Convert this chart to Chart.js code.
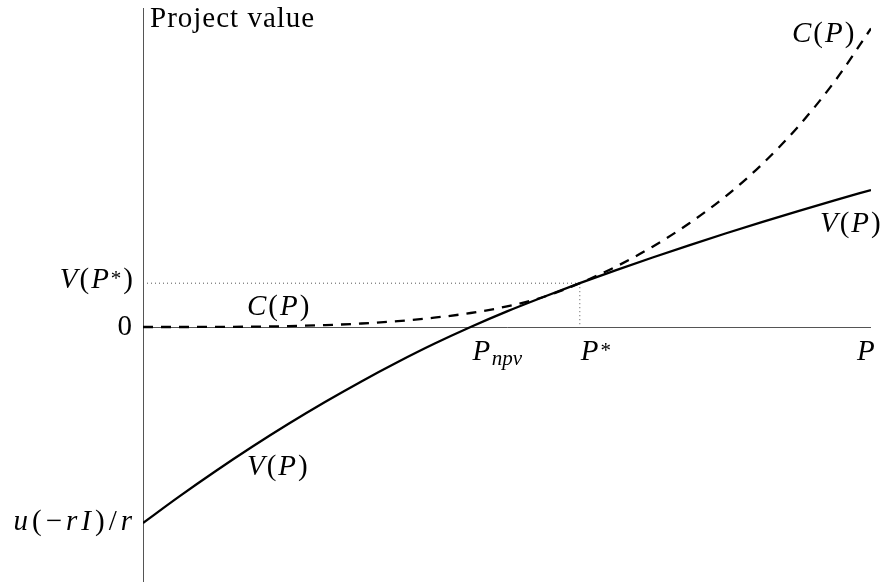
<!DOCTYPE html>
<html><head><meta charset="utf-8">
<script src="https://cdn.jsdelivr.net/npm/chart.js@4.4.1/dist/chart.umd.min.js"></script>
<style>html,body{margin:0;padding:0;background:#fff;overflow:hidden}#wrap{width:887px;height:584px}</style>
</head><body><div id="wrap"><canvas id="c" width="887" height="584"></canvas></div>
<script>
// Price grid (P), project value V(P) and option value C(P)
const prices = [0,1,2,3,4,5,6,7,8,9,10,11,12,13,14,15,16,17,18,19,20];
const projectValue = [-196,-169.4,-144,-119.8,-96.8,-75,-54.4,-35,-16.8,0,15.6,30.0,43.8,56.9,69.5,81.7,93.5,104.9,115.9,126.6,137];
const optionValue = [0,0,0.1,0.35,0.9,1.9,3.5,5.9,9.3,14,20.6,30,43.8,60.5,80.3,103.5,130.5,162.5,200.5,245.5,298.5];
const pNpvIndex = 9;
const pStarIndex = 12;
const yLimits = [-255, 319];

const vStar = projectValue[pStarIndex];
const pStar = prices[pStarIndex];
const pNpv = prices[pNpvIndex];
const pMax = prices[prices.length - 1];

const toXY = vals => vals.map((v, i) => ({x: prices[i], y: v}));

const FS = 29;
const FONT = '"Liberation Serif", "DejaVu Serif", serif';

function drawMath(ctx, parts, x, y, align, gap) {
  gap = gap === undefined ? 2 : gap;
  const fontFor = k => k === 'i' ? `italic ${FS}px ${FONT}` :
                       k === 'r' ? `${FS}px ${FONT}` :
                       k === 'sup' ? `${Math.round(FS*0.72)}px ${FONT}` :
                       `italic ${Math.round(FS*0.72)}px ${FONT}`;
  const dyFor = k => k === 'sup' ? -3 : k === 'sub' ? 5 : 0;
  const ws = [];
  let w = 0;
  parts.forEach(([t, k]) => { ctx.font = fontFor(k); const m = ctx.measureText(t).width + gap; ws.push(m); w += m; });
  w -= gap;
  let cx = align === 'right' ? x - w : x;
  parts.forEach(([t, k], i) => { ctx.font = fontFor(k); ctx.fillText(t, cx, y + dyFor(k)); cx += ws[i]; });
}

const overlay = {
  id: 'overlay',
  beforeDatasetsDraw(chart) {
    const {ctx, scales: {x, y}, chartArea: a} = chart;
    ctx.save();
    ctx.strokeStyle = '#555';
    ctx.lineWidth = 1;
    const x0 = Math.round(x.getPixelForValue(0)) + 0.5;
    const y0 = Math.round(y.getPixelForValue(0)) + 0.5;
    ctx.beginPath(); ctx.moveTo(x0, a.top); ctx.lineTo(x0, a.bottom); ctx.stroke();
    ctx.beginPath(); ctx.moveTo(x0, y0); ctx.lineTo(x.getPixelForValue(pMax), y0); ctx.stroke();
    ctx.restore();
  },
  afterDraw(chart) {
    const {ctx, scales: {x, y}, chartArea: a} = chart;
    const x0 = x.getPixelForValue(0);
    const y0 = y.getPixelForValue(0);
    ctx.save();
    ctx.fillStyle = '#000';
    ctx.textBaseline = 'alphabetic';
    // axis title
    ctx.font = `${FS}px ${FONT}`;
    ctx.letterSpacing = '1px';
    ctx.fillText('Project value', x0 + 7, a.top + 19);
    ctx.letterSpacing = '0px';
    // y labels
    drawMath(ctx, [['V','i'],['(','r'],['P','i'],['*','sup'],[')','r']], x0 - 10, y.getPixelForValue(vStar) + 5, 'right');
    drawMath(ctx, [['0','r']], x0 - 11, y0 + 8, 'right');
    drawMath(ctx, [['u','i'],['(','r'],['\u2212','r'],['r','i'],['I','i'],[')','r'],['/','r'],['r','i']], x0 - 11, y.getPixelForValue(projectValue[0]) + 7, 'right', 4);
    // x labels
    drawMath(ctx, [['P','i'],['npv','sub']], x.getPixelForValue(pNpv) + 2, y0 + 33, 'left', 1.5);
    drawMath(ctx, [['P','i'],['*','sup']], x.getPixelForValue(pStar) + 1, y0 + 33, 'left', 2);
    drawMath(ctx, [['P','i']], x.getPixelForValue(pMax) - 14, y0 + 33, 'left');
    // curve labels
    drawMath(ctx, [['C','i'],['(','r'],['P','i'],[')','r']], x0 + 104, y0 - 12, 'left');
    drawMath(ctx, [['C','i'],['(','r'],['P','i'],[')','r']], x.getPixelForValue(pMax) - 79, a.top + 34, 'left');
    drawMath(ctx, [['V','i'],['(','r'],['P','i'],[')','r']], x.getPixelForValue(pMax) - 51, y.getPixelForValue(projectValue[prices.length-1]) + 42, 'left');
    drawMath(ctx, [['V','i'],['(','r'],['P','i'],[')','r']], x0 + 104, y0 + 148, 'left');
    ctx.restore();
  }
};

new Chart(document.getElementById('c'), {
  type: 'line',
  data: {
    datasets: [
      { label: 'V(P)', data: toXY(projectValue), borderColor: '#000', borderWidth: 2.3, pointRadius: 0, cubicInterpolationMode: 'monotone', fill: false },
      { label: 'C(P)', data: toXY(optionValue), borderColor: '#000', borderWidth: 2.3, borderDash: [10, 8], pointRadius: 0, cubicInterpolationMode: 'monotone', fill: false },
      { label: 'guide-h', data: [{x: 0, y: vStar}, {x: pStar, y: vStar}], borderColor: '#555', borderWidth: 1, borderDash: [1, 3], pointRadius: 0, tension: 0 },
      { label: 'guide-v', data: [{x: pStar, y: vStar}, {x: pStar, y: 0}], borderColor: '#555', borderWidth: 1, borderDash: [1, 3], pointRadius: 0, tension: 0 }
    ]
  },
  options: {
    responsive: false,
    animation: false,
    devicePixelRatio: 1,
    layout: { padding: { left: 143, right: 16, top: 8, bottom: 2 } },
    scales: {
      x: { type: 'linear', min: 0, max: pMax, display: false },
      y: { type: 'linear', min: yLimits[0], max: yLimits[1], display: false }
    },
    plugins: { legend: { display: false }, tooltip: { enabled: false } }
  },
  plugins: [overlay]
});
</script>
</body></html>
